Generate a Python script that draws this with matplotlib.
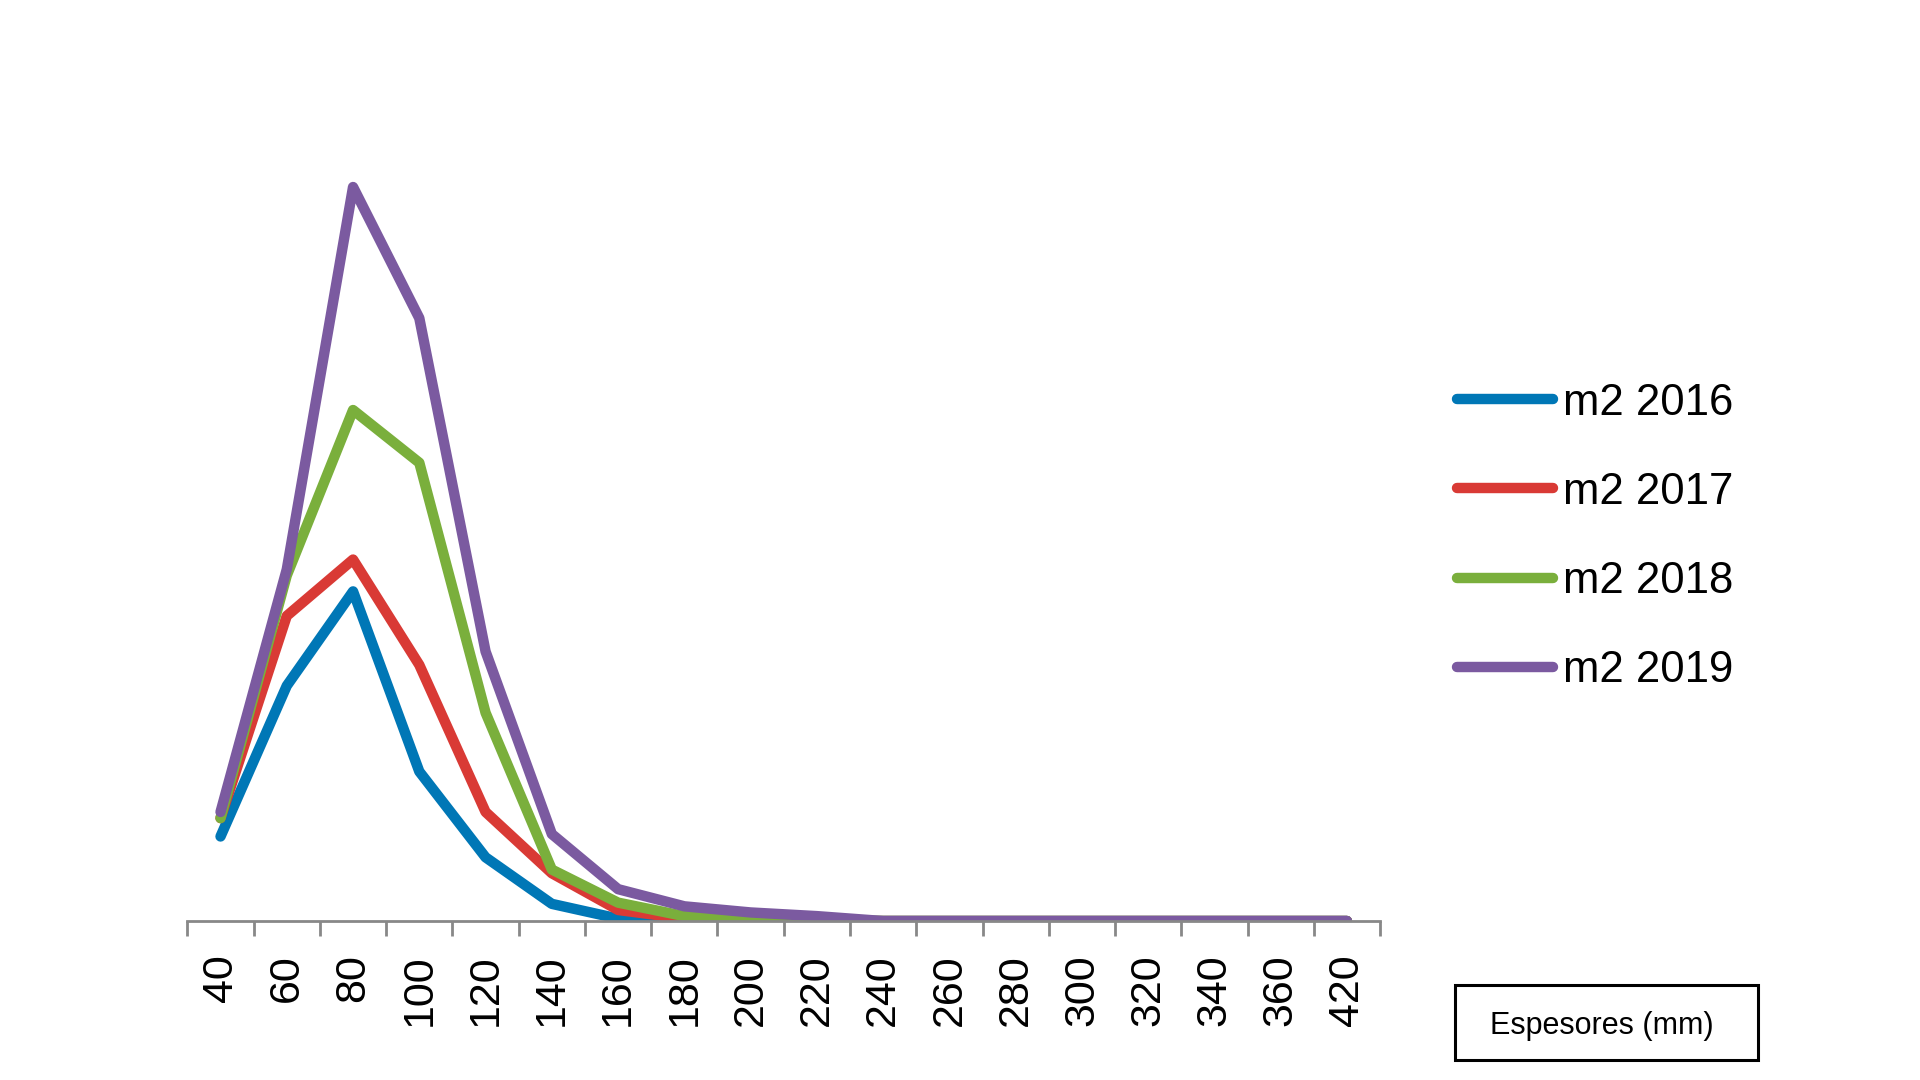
import matplotlib
matplotlib.use("Agg")
import matplotlib.pyplot as plt
from matplotlib.patches import Rectangle

categories = ["40", "60", "80", "100", "120", "140", "160", "180", "200", "220",
              "240", "260", "280", "300", "320", "340", "360", "420"]
m2_2016 = [69, 192, 269, 122, 52, 14, 2, 0, 0, 0, 0, 0, 0, 0, 0, 0, 0, 0]
m2_2017 = [84, 249, 295, 209, 89, 39, 9, 2, 1, 0, 0, 0, 0, 0, 0, 0, 0, 0]
m2_2018 = [84, 282, 417, 374, 170, 42, 15, 4, 2, 1, 0, 0, 0, 0, 0, 0, 0, 0]
m2_2019 = [89, 287, 599, 492, 220, 71, 26, 12, 7, 4, 0, 0, 0, 0, 0, 0, 0, 0]

series = [("m2 2016", m2_2016, "#0077b6"),
          ("m2 2017", m2_2017, "#d93a35"),
          ("m2 2018", m2_2018, "#7aaf3c"),
          ("m2 2019", m2_2019, "#7b5aa0")]

plt.rcParams['font.family'] = ['Liberation Sans', 'DejaVu Sans']

fig = plt.figure(figsize=(19.2, 10.8), dpi=100)
ax = fig.add_axes([0.0976, 0.1472, 0.6212, 0.7375])

x = list(range(len(categories)))
for label, vals, col in series:
    ax.plot(x, vals, color=col, lw=7.5, label=label,
            solid_capstyle='round', solid_joinstyle='round')

ax.set_xlim(-0.5, len(categories) - 0.5)
ax.set_ylim(0, 650)
ax.set_xticks([i - 0.5 for i in range(len(categories) + 1)])
ax.set_xticklabels([])
ax.set_xticks(x, minor=True)
ax.set_xticklabels(categories, minor=True, rotation=90, fontsize=31, va='top')
ax.tick_params(axis='x', which='major', direction='out', length=11, width=2,
               color='#888888')
ax.tick_params(axis='x', which='minor', length=0, pad=24)
ax.set_yticks([])
for s in ['left', 'right', 'top']:
    ax.spines[s].set_visible(False)
ax.spines['bottom'].set_color('#888888')
ax.spines['bottom'].set_linewidth(2)

leg = fig.legend(loc='center left', bbox_to_anchor=(0.759, 0.503),
                 frameon=False, fontsize=31.5, handlelength=2.18,
                 handletextpad=0.24, labelspacing=1.1,
                 borderpad=0, borderaxespad=0)
for h in leg.get_lines():
    h.set_linewidth(7.5)
    h.set_solid_capstyle('round')

fig.patches.append(Rectangle((1455 / 1920, 1 - 1060 / 1080), 303 / 1920, 75 / 1080,
                             transform=fig.transFigure, fill=False,
                             edgecolor='black', lw=2.2))
fig.text(1602 / 1920, 1 - 1026 / 1080, "Espesores (mm)", ha='center', va='center',
         fontsize=22)

fig.savefig("out.png", dpi=100)
